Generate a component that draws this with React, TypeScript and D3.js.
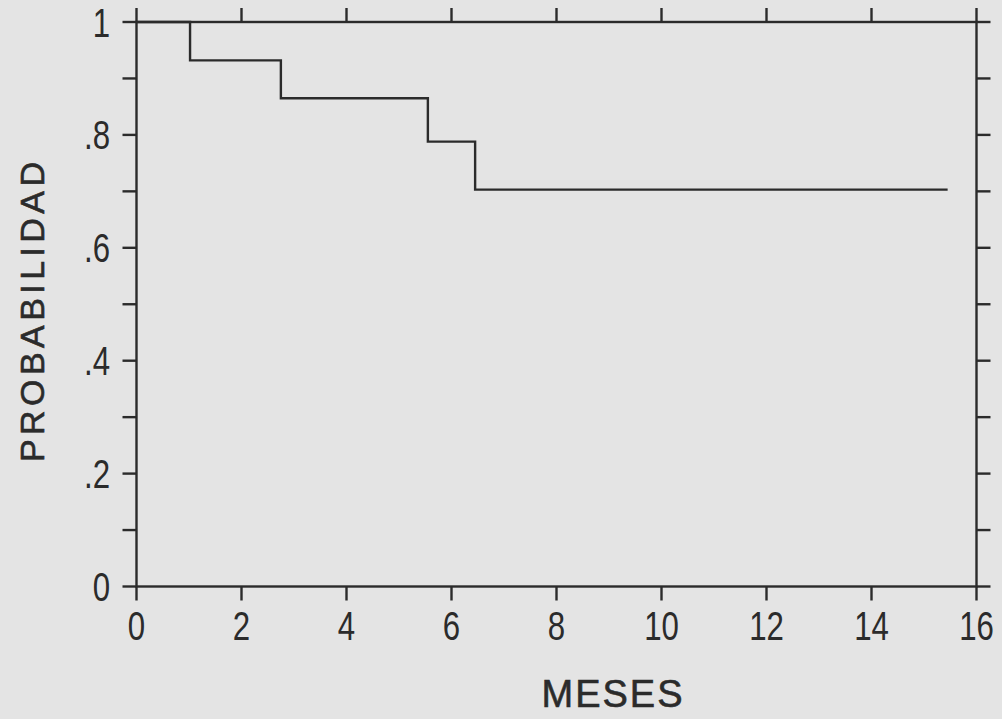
import React from "react";
import * as d3 from "d3";

// Kaplan-Meier step data (months, survival probability)
const stepTimes: number[] = [0, 1.02, 2.75, 5.55, 6.45];
const stepProbs: number[] = [1.0, 0.932, 0.865, 0.788, 0.703];
const lastTime = 15.45;

const xTickValues: number[] = [0, 2, 4, 6, 8, 10, 12, 14, 16];
const xTickLabels: string[] = ["0", "2", "4", "6", "8", "10", "12", "14", "16"];
const yTickValues: number[] = [0, 0.1, 0.2, 0.3, 0.4, 0.5, 0.6, 0.7, 0.8, 0.9, 1.0];
const yLabelValues: number[] = [0, 0.2, 0.4, 0.6, 0.8, 1.0];
const yLabelTexts: string[] = ["0", ".2", ".4", ".6", ".8", "1"];

const xTitle = "MESES";
const yTitle = "PROBABILIDAD";

const W = 1002;
const H = 719;
const BG = "#e4e4e4";
const INK = "#2b2b2b";

export default function App() {
  const x = d3.scaleLinear().domain([0, 16]).range([136.5, 976.5]);
  const y = d3.scaleLinear().domain([0, 1]).range([586.5, 22]);
  const tick = 14;
  const x0 = x(0), x1 = x(16), y0 = y(0), y1 = y(1);

  const pts: [number, number][] = stepTimes.map((t, i) => [t, stepProbs[i]]);
  pts.push([lastTime, stepProbs[stepProbs.length - 1]]);
  const line = d3
    .line<[number, number]>()
    .x((d) => x(d[0]))
    .y((d) => y(d[1]))
    .curve(d3.curveStepAfter);

  const numFont = "'Liberation Sans', Arial, Helvetica, sans-serif";
  const titleFont = "'Liberation Sans', Arial, Helvetica, sans-serif";
  const sw = 2.4;

  return (
    <svg
      width={W}
      height={H}
      style={{ position: "absolute", left: 0, top: 0, display: "block" }}
    >
      <rect x={0} y={0} width={W} height={H} fill={BG} />
      {/* frame */}
      <rect x={x0} y={y1} width={x1 - x0} height={y0 - y1} fill="none" stroke={INK} strokeWidth={sw} />
      {/* x ticks bottom and top */}
      {xTickValues.map((v) => (
        <g key={"xt" + v}>
          <line x1={x(v)} x2={x(v)} y1={y0} y2={y0 + tick} stroke={INK} strokeWidth={sw} />
          <line x1={x(v)} x2={x(v)} y1={y1} y2={y1 - tick} stroke={INK} strokeWidth={sw} />
        </g>
      ))}
      {/* y ticks left and right */}
      {yTickValues.map((v) => (
        <g key={"yt" + v}>
          <line x1={x0} x2={x0 - tick} y1={y(v)} y2={y(v)} stroke={INK} strokeWidth={sw} />
          <line x1={x1} x2={x1 + tick} y1={y(v)} y2={y(v)} stroke={INK} strokeWidth={sw} />
        </g>
      ))}
      {/* x labels */}
      {xTickValues.map((v, i) => (
        <text
          key={"xl" + v}
          transform={`translate(${x(v)}, 640) scale(0.78, 1)`}
          textAnchor="middle"
          fontFamily={numFont}
          fontSize={40}
          fill={INK}
        >
          {xTickLabels[i]}
        </text>
      ))}
      {/* y labels */}
      {yLabelValues.map((v, i) => (
        <text
          key={"yl" + v}
          transform={`translate(110, ${y(v) + 14.5}) scale(0.78, 1)`}
          textAnchor="end"
          fontFamily={numFont}
          fontSize={40}
          fill={INK}
        >
          {yLabelTexts[i]}
        </text>
      ))}
      {/* curve */}
      <path d={line(pts) || ""} fill="none" stroke={INK} strokeWidth={sw} />
      {/* titles */}
      <text
        x={612}
        y={707}
        textAnchor="middle"
        fontFamily={titleFont}
        fontSize={38}
        fill={INK}
        stroke={INK}
        strokeWidth={0.6}
        textLength={141}
        lengthAdjust="spacing"
      >
        {xTitle}
      </text>
      <text
        transform={`translate(44, 312) rotate(-90)`}
        x={0}
        y={0}
        textAnchor="middle"
        fontFamily={titleFont}
        fontSize={34}
        fill={INK}
        stroke={INK}
        strokeWidth={0.6}
        textLength={300}
        lengthAdjust="spacing"
      >
        {yTitle}
      </text>
    </svg>
  );
}
